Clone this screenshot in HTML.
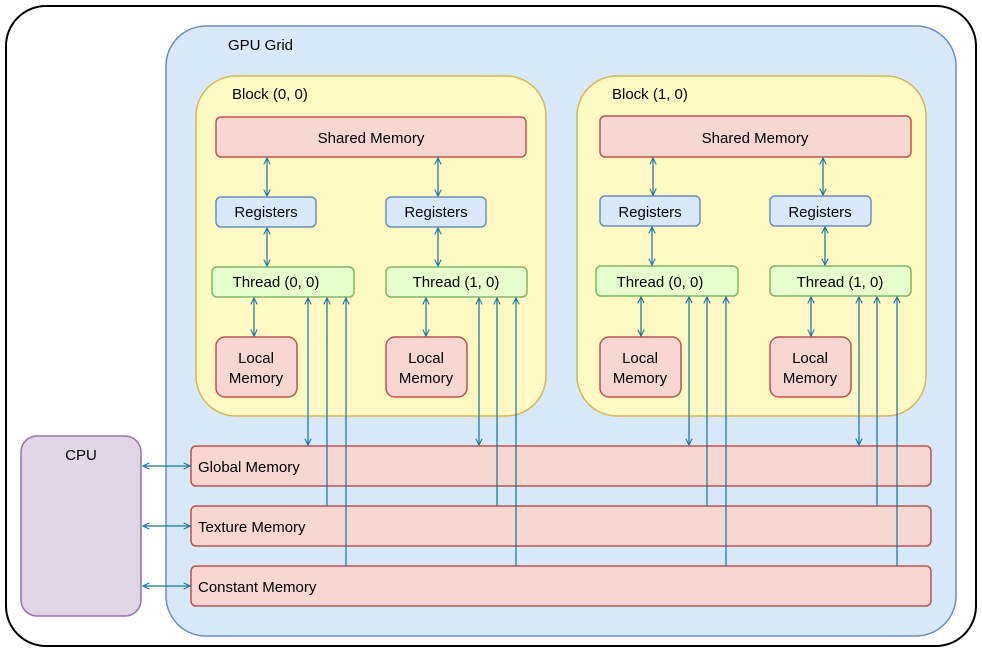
<!DOCTYPE html>
<html><head><meta charset="utf-8"><style>
html,body{margin:0;padding:0;background:#fff}
svg{display:block}
text{font-family:"Liberation Sans",sans-serif;font-size:15px;fill:#000}
</style></head><body>
<svg width="982" height="652" viewBox="0 0 982 652" xmlns="http://www.w3.org/2000/svg">
<defs>
<marker id="a" viewBox="0 0 10 10" refX="9" refY="5" markerWidth="8" markerHeight="8" orient="auto-start-reverse" markerUnits="userSpaceOnUse">
<path d="M1,1 L9,5 L1,9" fill="none" stroke="#10739e" stroke-width="1.3"/>
</marker>
</defs>
<rect x="6" y="6" width="970" height="640" rx="40" fill="#fff" stroke="#000" stroke-width="2"/>
<rect x="166" y="26" width="790" height="610" rx="40" fill="#dae8fc" stroke="#6c8ebf" stroke-width="1.5"/>
<text x="228" y="50">GPU Grid</text>
<rect x="21" y="436" width="120" height="180" rx="16" fill="#e1d5e7" stroke="#9673a6" stroke-width="1.5"/>
<text x="81" y="460" text-anchor="middle">CPU</text>

<g fill="#fff9c4" stroke="#d6b656" stroke-width="1.5">
<rect x="196" y="76" width="350" height="340" rx="40"/>
<rect x="577" y="76" width="349" height="340" rx="40"/>
</g>
<text x="232" y="99">Block (0, 0)</text>
<text x="612" y="99">Block (1, 0)</text>

<g fill="#f8d7d3" stroke="#b85450" stroke-width="1.5">
<rect x="216" y="117" width="310" height="40" rx="5"/>
<rect x="600" y="116" width="311" height="41" rx="5"/>
<rect x="216" y="337" width="81" height="60" rx="9"/>
<rect x="386" y="337" width="81" height="60" rx="9"/>
<rect x="600" y="337" width="81" height="60" rx="9"/>
<rect x="770" y="337" width="81" height="60" rx="9"/>
<rect x="191" y="446" width="740" height="40" rx="5"/>
<rect x="191" y="506" width="740" height="40" rx="5"/>
<rect x="191" y="566" width="740" height="40" rx="5"/>
</g>
<g fill="#dae8fc" stroke="#6c8ebf" stroke-width="1.5">
<rect x="216" y="197" width="100" height="30" rx="5"/>
<rect x="386" y="197" width="100" height="30" rx="5"/>
<rect x="600" y="196" width="100" height="30" rx="5"/>
<rect x="770" y="196" width="101" height="30" rx="5"/>
</g>
<g fill="#e6ffcc" stroke="#82b366" stroke-width="1.5">
<rect x="212" y="267" width="142" height="30" rx="5"/>
<rect x="386" y="267" width="141" height="30" rx="5"/>
<rect x="596" y="266" width="142" height="30" rx="5"/>
<rect x="770" y="266" width="141" height="30" rx="5"/>
</g>

<g text-anchor="middle">
<text x="371" y="143">Shared Memory</text>
<text x="755" y="143">Shared Memory</text>
<text x="266" y="217">Registers</text>
<text x="436" y="217">Registers</text>
<text x="650" y="217">Registers</text>
<text x="820" y="217">Registers</text>
<text x="276" y="287">Thread (0, 0)</text>
<text x="456" y="287">Thread (1, 0)</text>
<text x="660" y="287">Thread (0, 0)</text>
<text x="840" y="287">Thread (1, 0)</text>
<text x="256" y="363">Local</text><text x="256" y="383">Memory</text>
<text x="426" y="363">Local</text><text x="426" y="383">Memory</text>
<text x="640" y="363">Local</text><text x="640" y="383">Memory</text>
<text x="810" y="363">Local</text><text x="810" y="383">Memory</text>
</g>
<text x="198" y="472">Global Memory</text>
<text x="198" y="532">Texture Memory</text>
<text x="198" y="592">Constant Memory</text>

<g stroke="#10739e" stroke-width="1.2" fill="none">
<!-- shared-registers -->
<path d="M267,158 V196" marker-start="url(#a)" marker-end="url(#a)"/>
<path d="M438,158 V196" marker-start="url(#a)" marker-end="url(#a)"/>
<path d="M653,158 V195" marker-start="url(#a)" marker-end="url(#a)"/>
<path d="M823,158 V195" marker-start="url(#a)" marker-end="url(#a)"/>
<!-- registers-thread -->
<path d="M267,228 V266" marker-start="url(#a)" marker-end="url(#a)"/>
<path d="M438,228 V266" marker-start="url(#a)" marker-end="url(#a)"/>
<path d="M652,227 V265" marker-start="url(#a)" marker-end="url(#a)"/>
<path d="M825,227 V265" marker-start="url(#a)" marker-end="url(#a)"/>
<!-- thread-local -->
<path d="M254,298 V336" marker-start="url(#a)" marker-end="url(#a)"/>
<path d="M426,298 V336" marker-start="url(#a)" marker-end="url(#a)"/>
<path d="M641,297 V336" marker-start="url(#a)" marker-end="url(#a)"/>
<path d="M811,297 V336" marker-start="url(#a)" marker-end="url(#a)"/>
<!-- thread-global (double) -->
<path d="M308,298 V445" marker-start="url(#a)" marker-end="url(#a)"/>
<path d="M479,298 V445" marker-start="url(#a)" marker-end="url(#a)"/>
<path d="M689,297 V445" marker-start="url(#a)" marker-end="url(#a)"/>
<path d="M859,297 V445" marker-start="url(#a)" marker-end="url(#a)"/>
<!-- thread-texture -->
<path d="M327,298 V506" marker-start="url(#a)"/>
<path d="M497,298 V506" marker-start="url(#a)"/>
<path d="M707,297 V506" marker-start="url(#a)"/>
<path d="M877,297 V506" marker-start="url(#a)"/>
<!-- thread-constant -->
<path d="M346,298 V566" marker-start="url(#a)"/>
<path d="M516,298 V566" marker-start="url(#a)"/>
<path d="M726,297 V566" marker-start="url(#a)"/>
<path d="M897,297 V566" marker-start="url(#a)"/>
<!-- CPU -->
<path d="M143,466 H190" marker-start="url(#a)" marker-end="url(#a)"/>
<path d="M143,526 H190" marker-start="url(#a)" marker-end="url(#a)"/>
<path d="M143,586 H190" marker-start="url(#a)" marker-end="url(#a)"/>
</g>
</svg>
</body></html>
